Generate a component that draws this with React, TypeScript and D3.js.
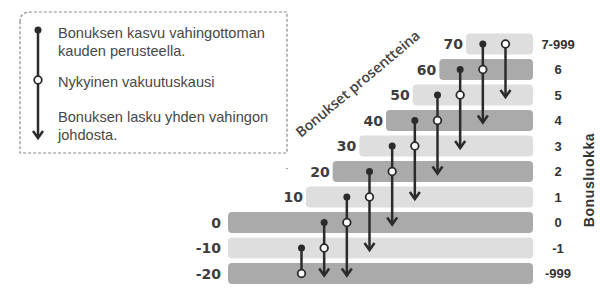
import * as d3 from "d3";

// rows, top to bottom
const bonusPct = [70, 60, 50, 40, 30, 20, 10, 0, -10, -20];
const bonusClass = ["7-999", "6", "5", "4", "3", "2", "1", "0", "-1", "-999"];

// transition columns, left to right (current class)
const columns = ["-999", "-1", "0", "1", "2", "3", "4", "5", "6", "7-999"];
const afterClaimFree = ["-1", "0", "1", "2", "3", "4", "5", "6", "7-999", null];
const afterOneClaim = [null, "-999", "-999", "-1", "0", "1", "2", "3", "4", "5"];

const legendLines = [
  ["Bonuksen kasvu vahingottoman", "kauden perusteella."],
  ["Nykyinen vakuutuskausi"],
  ["Bonuksen lasku yhden vahingon", "johdosta."],
];

const W = 600;
const H = 294;
const ink = "#2b2b2b";

export default function App() {
  const y = d3
    .scaleBand<string>()
    .domain(bonusClass)
    .range([33.5, 284])
    .paddingInner(0.176);
  const rowMid = (c: string) => (y(c) ?? 0) + y.bandwidth() / 2;

  // bar start follows the bonus percentage, flat below zero
  const barStart = d3
    .scaleLinear()
    .domain([-20, 0, 10, 70])
    .range([228, 228, 306, 466]);
  const barEnd = 533;

  const col = d3.scalePoint<string>().domain(columns).range([301.5, 505.5]);

  const arrowHead = (x: number, tip: number) =>
    `M${x - 5},${tip - 7}L${x},${tip}L${x + 5},${tip - 7}`;

  // legend box with rounded top-left corner
  const lx0 = 20, ly0 = 12, lx1 = 287, ly1 = 153, r = 10;
  const legendPath = `M${lx0},${ly0 + r}Q${lx0},${ly0} ${lx0 + r},${ly0}L${lx1},${ly0}L${lx1},${ly1}L${lx0},${ly1}Z`;

  const legendY = [38, 56, 87, 122, 140];
  let li = 0;

  return (
    <svg
      width={W}
      height={H}
      style={{ position: "absolute", left: 0, top: 0, background: "#fff" }}
    >
      {/* legend */}
      <path
        d={legendPath}
        fill="none"
        stroke="#8a8a8a"
        strokeWidth={1.2}
        strokeDasharray="3 2"
      />
      <line x1={38} x2={38} y1={30} y2={137} stroke={ink} strokeWidth={2.5} />
      <path d={arrowHead(38, 138)} fill="none" stroke={ink} strokeWidth={2.5} />
      <circle cx={38} cy={30} r={3.5} fill={ink} />
      <circle cx={38} cy={80} r={3.8} fill="#fff" stroke={ink} strokeWidth={1.8} />
      <g fontFamily="Liberation Sans, Arial, sans-serif" fontSize={14.6} fill="#484848">
        {legendLines.map((block) =>
          block.map((t) => (
            <text key={t} x={58} y={legendY[li++]}>
              {t}
            </text>
          ))
        )}
      </g>

      {/* bars */}
      {bonusClass.map((c, i) => (
        <rect
          key={c}
          x={barStart(bonusPct[i])}
          y={y(c)}
          width={barEnd - barStart(bonusPct[i])}
          height={y.bandwidth()}
          rx={4}
          fill={i % 2 === 0 ? "#dedede" : "#aaaaaa"}
        />
      ))}

      {/* percentage labels */}
      <g fontFamily="DejaVu Sans, sans-serif" fontWeight="bold" fontSize={14} fill="#3d3d3d">
        {bonusClass.map((c, i) => (
          <text
            key={c}
            x={barStart(bonusPct[i]) - (bonusPct[i] <= 0 ? 7 : 3)}
            y={rowMid(c)}
            dy="0.36em"
            textAnchor="end"
          >
            {bonusPct[i]}
          </text>
        ))}
      </g>
      <text x={287} y={172} fontSize={10} fill="#444" textAnchor="middle">
        ·
      </text>

      {/* class labels */}
      <g fontFamily="Liberation Sans, Arial, sans-serif" fontWeight="bold" fontSize={13} fill="#333">
        {bonusClass.map((c) => (
          <text key={c} x={558} y={rowMid(c)} dy="0.36em" textAnchor="middle">
            {c}
          </text>
        ))}
      </g>
      <text
        transform="translate(594,180) rotate(-90)"
        textAnchor="middle"
        fontFamily="Liberation Sans, Arial, sans-serif"
        fontWeight="bold"
        fontSize={14}
        letterSpacing={0.6}
        fill="#333"
      >
        Bonusluokka
      </text>
      <text
        transform="translate(301,138) rotate(-40)"
        fontFamily="Open Sans, sans-serif"
        fontWeight={600}
        fontSize={14.2}
        fill="#444"
      >
        Bonukset prosentteina
      </text>

      {/* transitions */}
      {columns.map((c, i) => {
        const x = col(c) ?? 0;
        const up = afterClaimFree[i];
        const down = afterOneClaim[i];
        const yCur = rowMid(c);
        const yTop = up ? rowMid(up) : yCur;
        const yBot = down ? rowMid(down) + 2 : yCur;
        return (
          <g key={c}>
            <line x1={x} x2={x} y1={yTop} y2={down ? yBot - 1 : yBot} stroke={ink} strokeWidth={2.5} />
            {down && (
              <path d={arrowHead(x, yBot)} fill="none" stroke={ink} strokeWidth={2.5} />
            )}
            {up && <circle cx={x} cy={yTop} r={3.5} fill={ink} />}
            <circle cx={x} cy={yCur} r={3.8} fill="#fff" stroke={ink} strokeWidth={1.8} />
          </g>
        );
      })}
    </svg>
  );
}
